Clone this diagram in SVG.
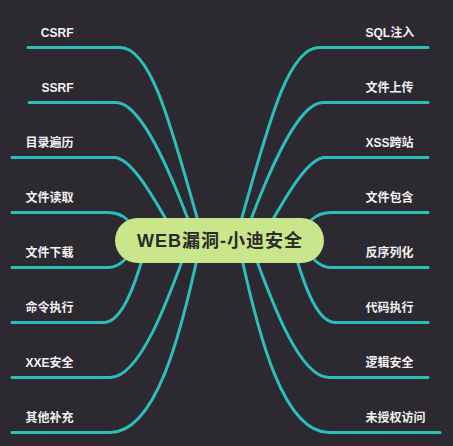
<svg xmlns="http://www.w3.org/2000/svg" width="453" height="446" viewBox="0 0 453 446">
<style>
.bg{fill:#2c2931}
.ln{fill:none;stroke:#2bbfba;stroke-width:3;stroke-linecap:round}
.lbl{font-family:"Liberation Sans","Noto Sans CJK SC",sans-serif;font-size:12px;font-weight:bold;fill:#f2f2f2}
.l{text-anchor:end}
.r{text-anchor:start}
.root{fill:#c9e68b}
.rootText{font-family:"Liberation Sans","Noto Sans CJK SC",sans-serif;font-size:18px;font-weight:bold;fill:#2b2b2b;text-anchor:middle;letter-spacing:1px}
</style>
<rect class="bg" x="0" y="0" width="453" height="446"/>
<g id="connectors">
<path class="ln" d="M200 228 C172 130 152 47.5 120 47.5 L28 47.5"/>
<path class="ln" d="M192 230 C168 165 140 102.5 116 102.5 L29 102.5"/>
<path class="ln" d="M175 235 C155 200 132 157.5 114 157.5 L12 157.5"/>
<path class="ln" d="M140 240 C132 222 124 212.5 108 212.5 L12 212.5"/>
<path class="ln" d="M140 240 C128 258 120 267.5 108 267.5 L12 267.5"/>
<path class="ln" d="M148 240 C138 275 124 322.5 104 322.5 L12 322.5"/>
<path class="ln" d="M188 245 C168 300 140 377.5 110 377.5 L12 377.5"/>
<path class="ln" d="M200 245 C180 340 155 432.5 110 432.5 L12 432.5"/>
<path class="ln" d="M239 228 C267 130 287 47.5 319 47.5 L428 47.5"/>
<path class="ln" d="M247 230 C271 165 299 102.5 323 102.5 L428 102.5"/>
<path class="ln" d="M264 235 C284 200 307 157.5 325 157.5 L428 157.5"/>
<path class="ln" d="M299 240 C307 222 315 212.5 331 212.5 L428 212.5"/>
<path class="ln" d="M299 240 C311 258 319 267.5 331 267.5 L428 267.5"/>
<path class="ln" d="M291 240 C301 275 315 322.5 335 322.5 L428 322.5"/>
<path class="ln" d="M251 245 C271 300 299 377.5 329 377.5 L428 377.5"/>
<path class="ln" d="M239 245 C259 340 284 432.5 329 432.5 L440 432.5"/>
</g>
<g id="root">
<rect class="root" x="115" y="218" width="209" height="45" rx="22.5"/>
<text class="rootText" x="220" y="247">WEB漏洞-小迪安全</text>
</g>
<g id="n-csrf"><text class="lbl l" x="73.5" y="36.5">CSRF</text></g>
<g id="n-ssrf"><text class="lbl l" x="73.5" y="91.5">SSRF</text></g>
<g id="n-dir"><text class="lbl l" x="73.5" y="146.5">目录遍历</text></g>
<g id="n-read"><text class="lbl l" x="73.5" y="201.5">文件读取</text></g>
<g id="n-download"><text class="lbl l" x="73.5" y="256.5">文件下载</text></g>
<g id="n-cmd"><text class="lbl l" x="73.5" y="311.5">命令执行</text></g>
<g id="n-xxe"><text class="lbl l" x="73.5" y="366.5">XXE安全</text></g>
<g id="n-other"><text class="lbl l" x="73.5" y="421.5">其他补充</text></g>
<g id="n-sql"><text class="lbl r" x="365.5" y="36.5">SQL注入</text></g>
<g id="n-upload"><text class="lbl r" x="365.5" y="91.5">文件上传</text></g>
<g id="n-xss"><text class="lbl r" x="365.5" y="146.5">XSS跨站</text></g>
<g id="n-include"><text class="lbl r" x="365.5" y="201.5">文件包含</text></g>
<g id="n-unser"><text class="lbl r" x="365.5" y="256.5">反序列化</text></g>
<g id="n-code"><text class="lbl r" x="365.5" y="311.5">代码执行</text></g>
<g id="n-logic"><text class="lbl r" x="365.5" y="366.5">逻辑安全</text></g>
<g id="n-unauth"><text class="lbl r" x="365.5" y="421.5">未授权访问</text></g>
</svg>
